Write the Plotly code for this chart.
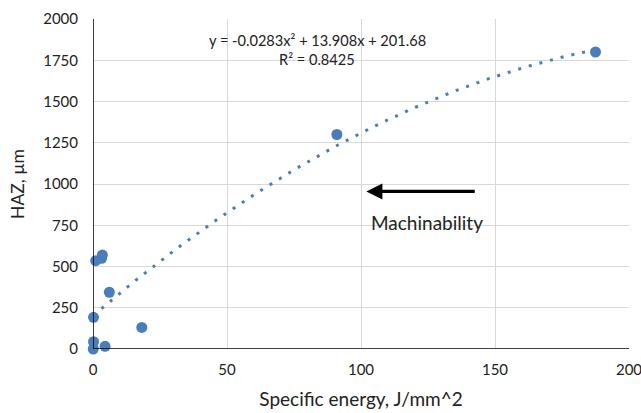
import plotly.graph_objects as go
import numpy as np

# Data
energy = [187.5, 91, 1.0, 3.5, 3.2, 6.1, 0.2, 18.2, 0.2, 0.1, 4.5]
haz = [1800, 1300, 535, 570, 550, 344, 192, 131, 44, 0, 16]

# Trendline coefficients as displayed (a*x^2 + b*x + c)
trend_coefs = [-0.0283, 13.908, 201.68]
trend_label = "y = -0.0283x² + 13.908x + 201.68"
r2_label = "R² = 0.8425"

x_ticks = [0, 50, 100, 150, 200]
y_ticks = [0, 250, 500, 750, 1000, 1250, 1500, 1750, 2000]

FONT = "Lato"
BLUE = "#4a7ebb"

tx = np.linspace(0, max(energy), 200)
ty = np.polyval(trend_coefs, tx)

fig = go.Figure()
fig.add_trace(go.Scatter(x=tx, y=ty, mode="lines",
                         line=dict(color=BLUE, width=3, dash="3px,8px"),
                         hoverinfo="skip", showlegend=False))
fig.add_trace(go.Scatter(x=energy, y=haz, mode="markers",
                         marker=dict(color=BLUE, size=11),
                         showlegend=False, cliponaxis=False))

fig.update_layout(
    width=641, height=413,
    margin=dict(l=93, r=12, t=19, b=64, autoexpand=False),
    paper_bgcolor="white", plot_bgcolor="white",
    font=dict(family=FONT, color="#222222", size=15),
    xaxis=dict(range=[0, 200], tickvals=x_ticks, showgrid=True, automargin=False,
               gridcolor="#d9d9d9", gridwidth=1, zeroline=False,
               showline=False, ticks="", ticklabelstandoff=10,
               ticklabeloverflow="allow",
               title=dict(text="Specific energy, J/mm^2", font=dict(size=19), standoff=15)),
    yaxis=dict(range=[0, 2000], tickvals=y_ticks, showgrid=True, automargin=False,
               gridcolor="#d9d9d9", gridwidth=1, zeroline=False,
               showline=False, ticks="", ticklabelstandoff=14,
               ticklabeloverflow="allow",
               title=dict(text="HAZ, µm", font=dict(size=17.5), standoff=14)),
)

# black axis lines at x=0 and y=0
fig.add_shape(type="line", xref="x", yref="y", x0=0, x1=0, y0=0, y1=2000,
              line=dict(color="black", width=1.5), layer="above")
fig.add_shape(type="line", xref="x", yref="y", x0=0, x1=200, y0=0, y1=0,
              line=dict(color="black", width=1.5), layer="above")

# White box for Machinability label
fig.add_shape(type="rect", xref="x", yref="y", x0=96.5, x1=154, y0=618, y1=900,
              fillcolor="white", line=dict(width=0), layer="below")
fig.add_annotation(x=124.5, y=765, xref="x", yref="y", text="Machinability",
                   showarrow=False, font=dict(size=19, color="#222222"))
# Arrow
fig.add_annotation(x=102, y=955, ax=143, ay=955, xref="x", yref="y",
                   axref="x", ayref="y", text="", showarrow=True,
                   arrowhead=2, arrowsize=1, arrowwidth=3.2, arrowcolor="black")

# Trendline equation
fig.add_annotation(x=83.6, y=1867, xref="x", yref="y", text=trend_label,
                   showarrow=False, font=dict(size=14.6, color="#222222"))
fig.add_annotation(x=83.6, y=1752, xref="x", yref="y", text=r2_label,
                   showarrow=False, font=dict(size=14.6, color="#222222"))

# remove the browser's default 8px body margin so the figure fills the window
fig.write_html("out.html",
               config={"displayModeBar": False},
               post_script="document.body.style.margin='0';document.body.style.overflow='hidden';")
